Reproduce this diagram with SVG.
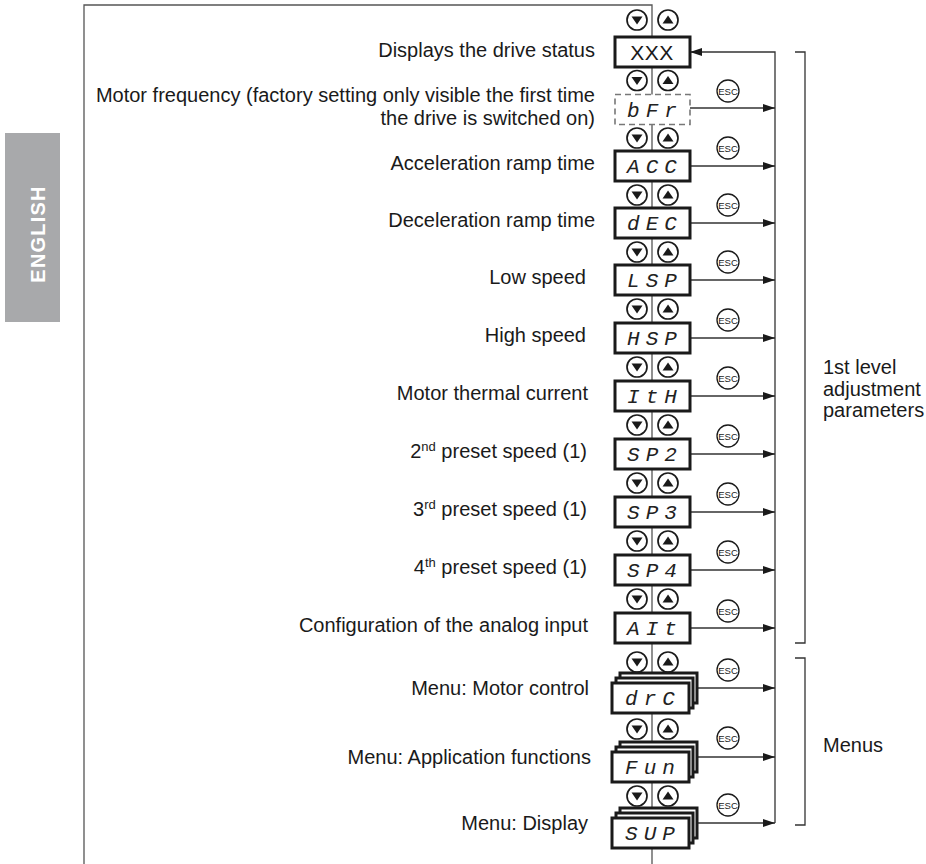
<svg xmlns="http://www.w3.org/2000/svg" width="926" height="864" viewBox="0 0 926 864">
<style>
.lbl{font-family:"Liberation Sans",Arial,sans-serif;font-size:20px;fill:#1a1a1a;text-anchor:end}
.sup{font-size:13px}
.side{font-family:"Liberation Sans",Arial,sans-serif;font-size:20px;fill:#1a1a1a}
.seg{font-family:"Liberation Mono","DejaVu Sans Mono",monospace;font-style:italic;font-size:21px;fill:#222;text-anchor:middle;letter-spacing:6px}
.box{fill:#fff;stroke:#1a1a1a;stroke-width:3}
.dash{fill:#fff;stroke:#777;stroke-width:1.6;stroke-dasharray:6 4}
.btn{fill:#fff;stroke:#1a1a1a;stroke-width:1.7}
.tri{fill:#1a1a1a}
.escc{fill:#fff;stroke:#1a1a1a;stroke-width:1.3}
.esct{font-family:"Liberation Sans",Arial,sans-serif;font-size:9.5px;fill:#1a1a1a;text-anchor:middle}
.ln{stroke:#333;stroke-width:1.3;fill:none}
.frame{stroke:#555;stroke-width:1.3;fill:none}
</style>
<defs>
<marker id="ah" viewBox="0 0 12 8" refX="12" refY="4" markerWidth="12" markerHeight="8" markerUnits="userSpaceOnUse" orient="auto"><path d="M0,0 L12,4 L0,8 z" fill="#1a1a1a"/></marker>
<g id="bp">
<circle class="btn" cx="-15" cy="0" r="10"/>
<polygon class="tri" points="-20.5,-3.5 -9.5,-3.5 -15,4.5"/>
<circle class="btn" cx="16" cy="0" r="10"/>
<polygon class="tri" points="10.5,3.5 21.5,3.5 16,-4.5"/>
</g>
<g id="esc">
<circle class="escc" cx="0" cy="0" r="11"/>
<text class="esct" x="0" y="3.5">ESC</text>
</g>
</defs>

<g id="tab">
<rect x="5" y="133" width="55" height="189" fill="#a8a9ab"/>
<text transform="translate(44.5,234) rotate(-90)" font-family="Liberation Sans,Arial,sans-serif" font-weight="bold" font-size="20" letter-spacing="1.2" fill="#fff" text-anchor="middle">ENGLISH</text>
</g>

<g id="connectors">
<path class="frame" d="M84,864 V5 H652 V864"/>
<path class="ln" d="M775,823 V52 H690" marker-end="url(#ah)"/>
<path class="ln" d="M690,108 H775" marker-end="url(#ah)"/>
<path class="ln" d="M690,166 H775" marker-end="url(#ah)"/>
<path class="ln" d="M690,223 H775" marker-end="url(#ah)"/>
<path class="ln" d="M690,280 H775" marker-end="url(#ah)"/>
<path class="ln" d="M690,338 H775" marker-end="url(#ah)"/>
<path class="ln" d="M690,396 H775" marker-end="url(#ah)"/>
<path class="ln" d="M690,454 H775" marker-end="url(#ah)"/>
<path class="ln" d="M690,512 H775" marker-end="url(#ah)"/>
<path class="ln" d="M690,570 H775" marker-end="url(#ah)"/>
<path class="ln" d="M690,628 H775" marker-end="url(#ah)"/>
<path class="ln" d="M697,688 H775" marker-end="url(#ah)"/>
<path class="ln" d="M697,757 H775" marker-end="url(#ah)"/>
<path class="ln" d="M697,823 H775" marker-end="url(#ah)"/>
<path class="ln" d="M795,52 H805 V643 H795"/>
<path class="ln" d="M795,658 H805 V825 H795"/>
</g>

<g id="buttons">
<use href="#bp" x="652" y="20"/>
<use href="#bp" x="652" y="80.5"/>
<use href="#bp" x="652" y="138"/>
<use href="#bp" x="652" y="195"/>
<use href="#bp" x="652" y="252"/>
<use href="#bp" x="652" y="309"/>
<use href="#bp" x="652" y="367"/>
<use href="#bp" x="652" y="425"/>
<use href="#bp" x="652" y="483"/>
<use href="#bp" x="652" y="541"/>
<use href="#bp" x="652" y="599"/>
<use href="#bp" x="652" y="662"/>
<use href="#bp" x="652" y="729"/>
<use href="#bp" x="652" y="796"/>
</g>

<g id="esc-keys">
<use href="#esc" x="728" y="91"/>
<use href="#esc" x="728" y="148"/>
<use href="#esc" x="728" y="205"/>
<use href="#esc" x="728" y="262"/>
<use href="#esc" x="728" y="320"/>
<use href="#esc" x="728" y="378"/>
<use href="#esc" x="728" y="436"/>
<use href="#esc" x="728" y="494"/>
<use href="#esc" x="728" y="552"/>
<use href="#esc" x="728" y="611"/>
<use href="#esc" x="728" y="670"/>
<use href="#esc" x="728" y="738"/>
<use href="#esc" x="728" y="805"/>
</g>

<g id="n-xxx"><rect class="box" x="615" y="37" width="75" height="30"/><text x="652" y="60" font-family="Liberation Sans,Arial,sans-serif" font-size="21" fill="#1a1a1a" text-anchor="middle" letter-spacing="0.5">XXX</text>
<text class="lbl" x="595" y="57">Displays the drive status</text></g>

<g id="n-bfr"><rect class="dash" x="615" y="94.5" width="75" height="30"/><text class="seg" x="655" y="117">bFr</text>
<text class="lbl" x="595" y="102">Motor frequency (factory setting only visible the first time</text>
<text class="lbl" x="595" y="125">the drive is switched on)</text></g>

<g id="n-acc"><rect class="box" x="615" y="151" width="75" height="30"/><text class="seg" x="655" y="173">ACC</text>
<text class="lbl" x="595" y="170">Acceleration ramp time</text></g>

<g id="n-dec"><rect class="box" x="615" y="208" width="75" height="30"/><text class="seg" x="655" y="230">dEC</text>
<text class="lbl" x="595" y="227">Deceleration ramp time</text></g>

<g id="n-lsp"><rect class="box" x="615" y="265" width="75" height="30"/><text class="seg" x="655" y="287">LSP</text>
<text class="lbl" x="586" y="284">Low speed</text></g>

<g id="n-hsp"><rect class="box" x="615" y="323" width="75" height="30"/><text class="seg" x="655" y="345">HSP</text>
<text class="lbl" x="586" y="342">High speed</text></g>

<g id="n-ith"><rect class="box" x="615" y="381" width="75" height="30"/><text class="seg" x="655" y="403">ItH</text>
<text class="lbl" x="588" y="400">Motor thermal current</text></g>

<g id="n-sp2"><rect class="box" x="615" y="439" width="75" height="30"/><text class="seg" x="655" y="461">SP2</text>
<text class="lbl" x="587" y="458">2<tspan class="sup" dy="-7">nd</tspan><tspan dy="7"> preset speed (1)</tspan></text></g>

<g id="n-sp3"><rect class="box" x="615" y="497" width="75" height="30"/><text class="seg" x="655" y="519">SP3</text>
<text class="lbl" x="587" y="516">3<tspan class="sup" dy="-7">rd</tspan><tspan dy="7"> preset speed (1)</tspan></text></g>

<g id="n-sp4"><rect class="box" x="615" y="555" width="75" height="30"/><text class="seg" x="655" y="577">SP4</text>
<text class="lbl" x="587" y="574">4<tspan class="sup" dy="-7">th</tspan><tspan dy="7"> preset speed (1)</tspan></text></g>

<g id="n-ait"><rect class="box" x="615" y="613" width="75" height="30"/><text class="seg" x="655" y="635">AIt</text>
<text class="lbl" x="588" y="632">Configuration of the analog input</text></g>

<g id="n-drc">
<rect class="box" x="620" y="673" width="77" height="30"/>
<rect class="box" x="616" y="678" width="77" height="30"/>
<rect class="box" x="612" y="683" width="77" height="30"/>
<text class="seg" x="653" y="705">drC</text>
<text class="lbl" x="589" y="695">Menu: Motor control</text></g>

<g id="n-fun">
<rect class="box" x="620" y="742" width="77" height="30"/>
<rect class="box" x="616" y="747" width="77" height="30"/>
<rect class="box" x="612" y="752" width="77" height="30"/>
<text class="seg" x="653" y="774">Fun</text>
<text class="lbl" x="591" y="764">Menu: Application functions</text></g>

<g id="n-sup">
<rect class="box" x="620" y="808" width="77" height="30"/>
<rect class="box" x="616" y="813" width="77" height="30"/>
<rect class="box" x="612" y="818" width="77" height="30"/>
<text class="seg" x="653" y="840">SUP</text>
<text class="lbl" x="588" y="830">Menu: Display</text></g>

<g id="side-labels">
<text class="side" x="823" y="374">1st level</text>
<text class="side" x="823" y="396">adjustment</text>
<text class="side" x="823" y="417">parameters</text>
<text class="side" x="823" y="752">Menus</text>
</g>
</svg>
